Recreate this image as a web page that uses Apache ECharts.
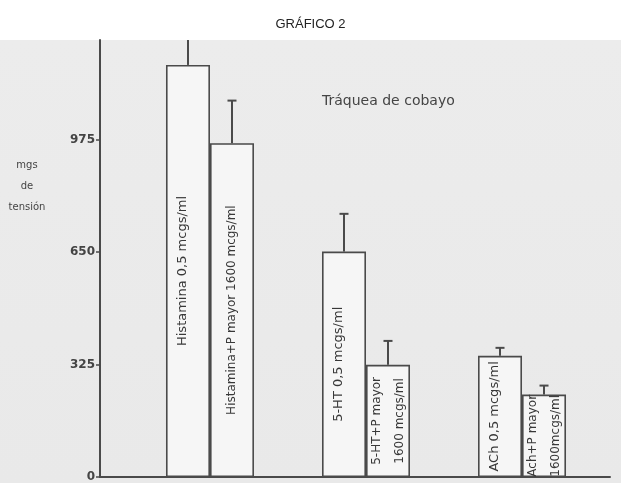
<!DOCTYPE html>
<html><head><meta charset="utf-8">
<script src="https://cdn.jsdelivr.net/npm/echarts@6/dist/echarts.min.js"></script>
<style>
html,body{margin:0;padding:0;background:#fff}
#c{width:621px;height:483px;background:linear-gradient(to bottom,#ffffff 0,#ffffff 40px,#ececec 40px,#e9e9e9 483px)}
</style>
</head><body><div id="c"></div>
<script>
// Data
const groups = [1, 2, 3]; // Histamina, 5-HT, ACh
const agonistLabels = ['Histamina 0,5 mcgs/ml', '5-HT 0,5 mcgs/ml', 'ACh 0,5 mcgs/ml'];
const agonistValues = [1190, 651, 350];
const agonistErrTop = [1330, 760, 373];
const comboLabels = ['Histamina+P mayor 1600 mcgs/ml', '5-HT+P mayor\n1600 mcgs/ml', 'Ach+P mayor\n1600mcgs/ml'];
const comboValues = [964, 324, 238];
const comboErrTop = [1087, 393, 264];
const yTickValues = [0, 325, 650, 975];
const yAxisName = 'mgs\nde\ntensión';
const subtitle = 'Tráquea de cobayo';
const chartTitle = 'GRÁFICO 2';

const BAR_W = 44;
const CAP = 9;
const INK = '#4a4a4a';

const chart = echarts.init(document.getElementById('c'), null, {renderer: 'canvas'});

const errData = [];
groups.forEach((g, i) => {
  errData.push([g, 0, agonistValues[i], agonistErrTop[i]]);
  errData.push([g, 1, comboValues[i], comboErrTop[i]]);
});

const barLabelBase = {
  show: true, position: 'inside', rotate: 90,
  color: '#383838', fontFamily: 'DejaVu Sans'
};

chart.setOption({
  backgroundColor: 'transparent',
  animation: false,
  title: {
    text: chartTitle, left: 'center', top: 13,
    textStyle: {fontSize: 13, fontWeight: 'normal', color: '#222', fontFamily: 'Liberation Sans'}
  },
  grid: {left: 100, right: 11, top: 40, bottom: 3, containLabel: false},
  xAxis: {
    type: 'value', min: 0.295, max: 3.564,
    axisLine: {show: true, onZero: false, lineStyle: {color: INK, width: 2}},
    axisTick: {show: false}, axisLabel: {show: false}, splitLine: {show: false}
  },
  yAxis: {
    type: 'value', min: 0, max: 1262, interval: 325,
    axisLine: {show: true, lineStyle: {color: INK, width: 2}},
    axisTick: {show: true, length: 4, customValues: yTickValues, lineStyle: {color: INK, width: 1.5}},
    axisLabel: {
      color: '#444', fontSize: 12, fontWeight: 'bold', fontFamily: 'DejaVu Sans',
      margin: 5, padding: [0, 0, 8, 0], customValues: yTickValues,
      formatter: v => String(v)
    },
    splitLine: {show: false}
  },
  graphic: [
    {type: 'text', left: 322, top: 94,
     style: {text: subtitle, fontSize: 14, fontFamily: 'DejaVu Sans', fill: '#444'}},
    {type: 'text', x: 27, y: 155,
     style: {text: yAxisName, x: 0, y: 0, fontSize: 10, lineHeight: 21, fontFamily: 'DejaVu Sans', fill: '#444', align: 'center', verticalAlign: 'top'}}
  ],
  series: [
    {
      type: 'bar', name: 'agonista', barWidth: BAR_W, barGap: '0%',
      data: groups.map((g, i) => [g, agonistValues[i]]),
      itemStyle: {color: '#f6f6f6', borderColor: INK, borderWidth: 1.6},
      label: Object.assign({}, barLabelBase, {fontSize: 13, offset: [0, -5],
        formatter: p => agonistLabels[p.dataIndex]})
    },
    {
      type: 'bar', name: 'agonista + P mayor', barWidth: BAR_W, barGap: '0%',
      data: groups.map((g, i) => [g, comboValues[i]]),
      itemStyle: {color: '#f6f6f6', borderColor: INK, borderWidth: 1.6},
      label: Object.assign({}, barLabelBase, {fontSize: 12, lineHeight: 23,
        formatter: p => comboLabels[p.dataIndex]})
    },
    {
      type: 'custom', name: 'error', clip: true, z: 5,
      data: errData,
      renderItem: (params, api) => {
        const g = api.value(0), s = api.value(1), lo = api.value(2), hi = api.value(3);
        const b = api.coord([g, lo]);
        const t = api.coord([g, hi]);
        const cx = b[0] + (s === 0 ? -1 : 1) * BAR_W / 2;
        const st = {stroke: INK, lineWidth: 2};
        return {type: 'group', children: [
          {type: 'line', shape: {x1: cx, y1: b[1], x2: cx, y2: t[1]}, style: st},
          {type: 'line', shape: {x1: cx - CAP / 2, y1: t[1], x2: cx + CAP / 2, y2: t[1]}, style: st}
        ]};
      }
    }
  ]
});
</script>
</body></html>
